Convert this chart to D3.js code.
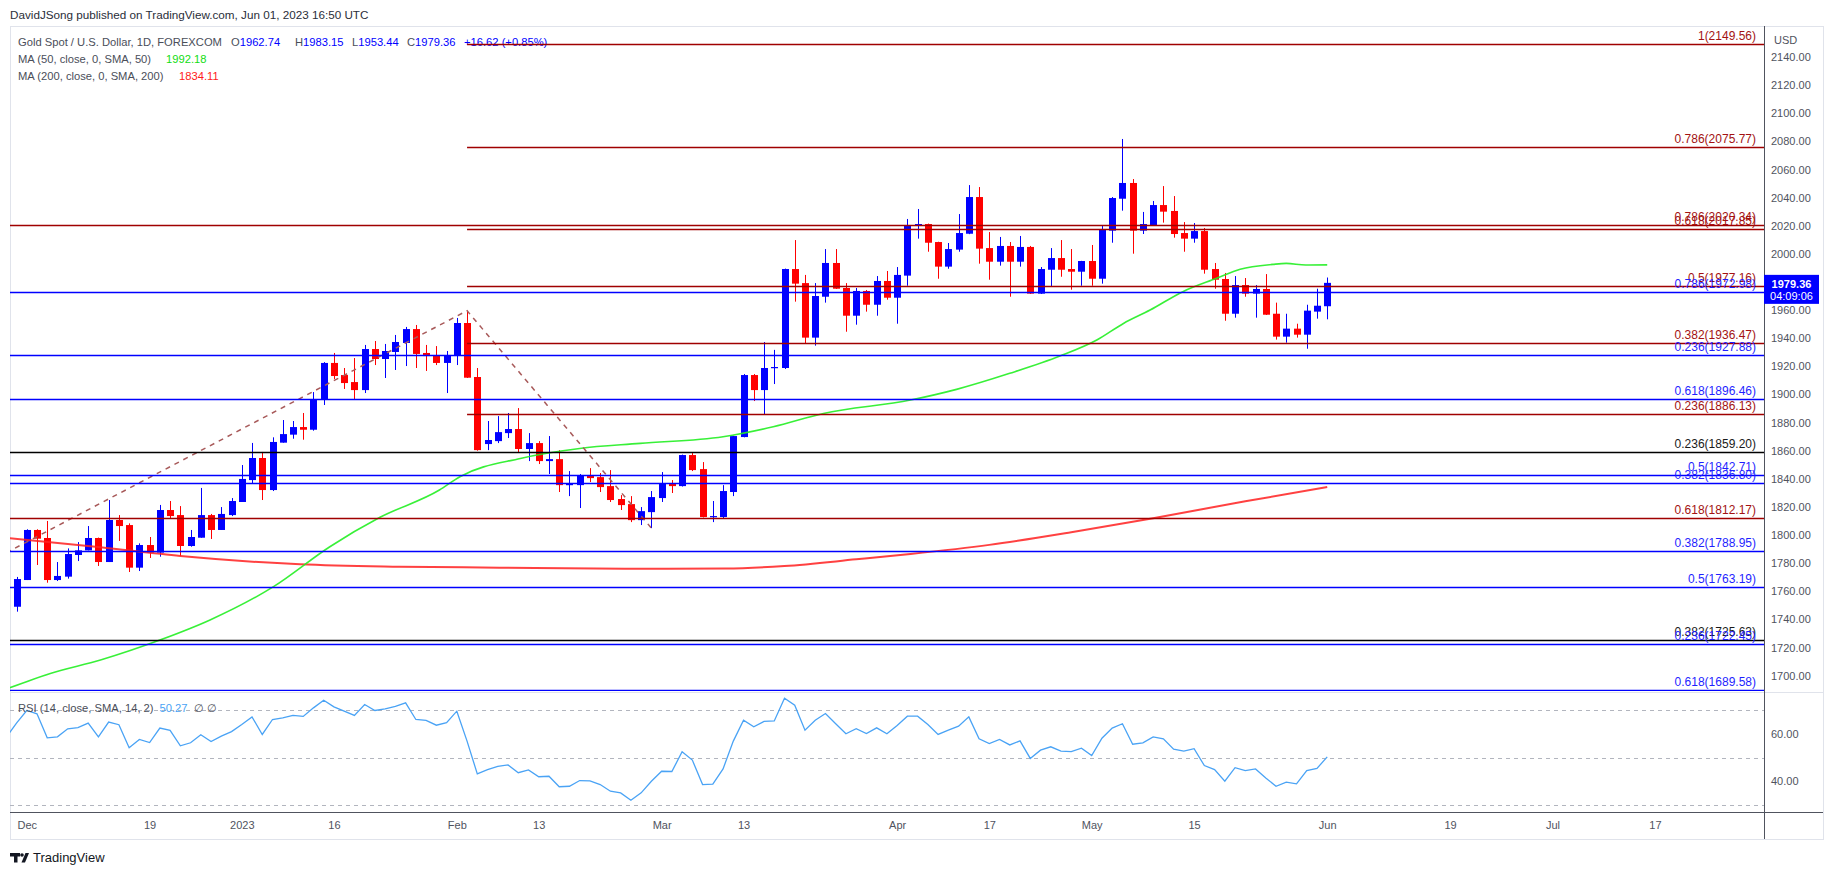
<!DOCTYPE html>
<html><head><meta charset="utf-8">
<script src="https://cdn.jsdelivr.net/npm/d3@7"></script>
<style>
body{margin:0;background:#fff;}
svg{display:block;font-family:"Liberation Sans",Arial,sans-serif;}
</style>
</head><body>
<svg id="c" width="1834" height="875"></svg>
<script>
// ---------------- DATA ----------------
const dates = ["2022-11-30","2022-12-01","2022-12-02","2022-12-05","2022-12-06","2022-12-07","2022-12-08","2022-12-09","2022-12-12","2022-12-13","2022-12-14","2022-12-15","2022-12-16","2022-12-19","2022-12-20","2022-12-21","2022-12-22","2022-12-23","2022-12-27","2022-12-28","2022-12-29","2022-12-30",
"2023-01-03","2023-01-04","2023-01-05","2023-01-06","2023-01-09","2023-01-10","2023-01-11","2023-01-12","2023-01-13","2023-01-16","2023-01-17","2023-01-18","2023-01-19","2023-01-20","2023-01-23","2023-01-24","2023-01-25","2023-01-26","2023-01-27","2023-01-30","2023-01-31",
"2023-02-01","2023-02-02","2023-02-03","2023-02-06","2023-02-07","2023-02-08","2023-02-09","2023-02-10","2023-02-13","2023-02-14","2023-02-15","2023-02-16","2023-02-17","2023-02-20","2023-02-21","2023-02-22","2023-02-23","2023-02-24","2023-02-27","2023-02-28",
"2023-03-01","2023-03-02","2023-03-03","2023-03-06","2023-03-07","2023-03-08","2023-03-09","2023-03-10","2023-03-13","2023-03-14","2023-03-15","2023-03-16","2023-03-17","2023-03-20","2023-03-21","2023-03-22","2023-03-23","2023-03-24","2023-03-27","2023-03-28","2023-03-29","2023-03-30","2023-03-31",
"2023-04-03","2023-04-04","2023-04-05","2023-04-06","2023-04-10","2023-04-11","2023-04-12","2023-04-13","2023-04-14","2023-04-17","2023-04-18","2023-04-19","2023-04-20","2023-04-21","2023-04-24","2023-04-25","2023-04-26","2023-04-27","2023-04-28",
"2023-05-01","2023-05-02","2023-05-03","2023-05-04","2023-05-05","2023-05-08","2023-05-09","2023-05-10","2023-05-11","2023-05-12","2023-05-15","2023-05-16","2023-05-17","2023-05-18","2023-05-19","2023-05-22","2023-05-23","2023-05-24","2023-05-25","2023-05-26","2023-05-29","2023-05-30","2023-05-31","2023-06-01"];

const open = [1749.0,1768.0,1803.6,1797.9,1768.0,1770.4,1785.8,1789.1,1797.9,1780.8,1810.7,1807.1,1776.8,1792.9,1787.5,1817.8,1814.2,1792.2,1798.1,1814.2,1803.6,1814.2,
1823.5,1839.1,1854.8,1832.0,1865.7,1871.4,1876.8,1874.9,1896.7,1922.4,1913.8,1908.8,1903.1,1932.3,1925.2,1930.2,1936.6,1946.5,1929.5,1928.0,1922.4,
1928.0,1950.8,1912.4,1864.7,1866.8,1872.5,1875.4,1861.2,1865.4,1852.6,1854.0,1835.5,1835.5,1842.7,1841.2,1834.8,1825.6,1822.0,1810.6,1816.3,
1826.3,1836.3,1834.8,1856.9,1846.9,1812.8,1812.8,1830.6,1869.7,1913.8,1903.1,1918.8,1918.8,1989.2,1979.2,1940.4,1969.5,1993.5,1975.7,1956.0,1973.6,1963.8,1980.7,
1968.8,1984.5,2020.3,2021.2,2008.4,1990.9,2003.0,2014.3,2040.4,2004.1,1994.4,2005.6,1994.4,2004.9,1971.7,1988.7,1997.0,1989.2,1987.3,
1994.9,1982.3,2016.5,2039.2,2050.4,2016.5,2020.5,2034.7,2030.5,2014.8,2010.8,2016.2,1989.2,1982.1,1957.4,1977.8,1971.7,1975.0,1957.4,1941.1,1946.8,1942.5,1958.9,1962.74];
const high = [1770.2,1804.1,1804.1,1810.0,1780.8,1790.5,1795.0,1806.4,1798.2,1824.9,1814.2,1808.3,1794.1,1798.6,1821.4,1824.2,1820.6,1803.6,1833.5,1815.0,1819.9,1826.3,
1849.8,1865.5,1859.1,1869.5,1881.8,1881.1,1886.8,1901.7,1923.0,1929.5,1918.8,1925.9,1935.2,1938.0,1935.9,1942.3,1948.0,1949.4,1935.2,1934.4,1930.9,
1954.4,1959.6,1918.8,1881.1,1884.6,1886.8,1890.3,1872.5,1866.8,1870.4,1860.4,1845.5,1843.4,1847.6,1844.1,1846.2,1828.4,1827.7,1819.9,1831.3,
1844.8,1839.1,1857.2,1858.3,1851.9,1824.2,1835.5,1870.6,1914.5,1914.5,1937.3,1931.7,1989.5,2009.8,1985.0,1979.2,2003.4,2003.4,1979.2,1975.7,1974.3,1984.2,1987.8,
1990.6,2024.8,2031.9,2021.5,2008.6,2007.7,2028.3,2048.9,2047.5,2015.5,2012.0,2008.4,2012.7,2005.6,1990.6,2004.1,2009.8,2003.4,1995.0,
2006.3,2020.0,2040.4,2081.7,2053.2,2029.8,2037.6,2048.2,2041.1,2022.6,2021.9,2018.4,1993.5,1986.4,1984.2,1982.8,1977.8,1985.6,1965.3,1957.4,1950.3,1963.8,1975.2,1983.15];
const low = [1745.5,1768.0,1778.7,1766.1,1767.3,1769.0,1781.5,1789.1,1778.0,1780.8,1795.8,1773.7,1774.4,1783.7,1784.6,1811.9,1785.1,1791.7,1798.1,1797.2,1803.6,1813.5,
1823.5,1836.8,1824.9,1831.3,1865.7,1868.5,1867.8,1874.2,1892.5,1911.0,1903.9,1896.7,1901.0,1920.9,1911.7,1917.4,1920.2,1918.8,1916.7,1920.9,1901.0,
1920.9,1911.7,1860.0,1860.4,1865.4,1869.0,1859.0,1852.6,1850.5,1843.4,1830.6,1827.7,1819.2,1837.7,1830.6,1823.5,1817.8,1809.2,1807.1,1804.9,
1823.5,1829.9,1834.5,1845.5,1812.5,1809.2,1812.1,1827.7,1869.5,1895.3,1886.0,1907.4,1918.1,1966.0,1936.3,1934.7,1965.3,1975.0,1944.6,1949.6,1958.9,1956.0,1967.4,
1950.3,1977.3,2010.8,2001.5,1982.3,1989.4,2001.5,2014.0,1993.0,1981.6,1991.6,1969.5,1990.9,1971.5,1971.5,1977.1,1983.7,1974.5,1977.3,
1977.3,1978.8,2007.9,2030.7,2000.1,2014.1,2020.3,2022.2,2011.5,2001.5,2007.9,1985.9,1975.2,1952.4,1954.6,1969.5,1954.6,1956.5,1939.0,1936.8,1940.4,1932.5,1953.9,1953.44];
const close = [1768.7,1803.6,1797.4,1768.0,1770.9,1786.5,1789.1,1797.9,1780.8,1810.7,1806.4,1776.8,1792.9,1787.5,1817.8,1813.5,1792.2,1798.6,1814.2,1803.6,1815.0,1824.2,
1839.9,1854.8,1832.0,1866.2,1871.8,1876.8,1874.9,1896.7,1922.4,1913.1,1908.1,1903.1,1932.3,1925.2,1930.9,1937.3,1946.5,1928.8,1927.3,1922.4,1928.0,
1950.8,1911.9,1860.4,1867.6,1873.2,1875.4,1861.2,1865.4,1852.6,1854.0,1835.5,1836.3,1842.7,1840.5,1834.1,1824.9,1821.3,1810.6,1817.0,1827.0,
1837.0,1834.8,1856.9,1846.2,1812.8,1813.5,1831.3,1870.4,1913.8,1903.1,1918.8,1919.5,1989.2,1978.8,1940.4,1970.0,1993.5,1975.2,1956.0,1973.6,1963.8,1980.7,1968.8,
1985.0,2020.3,2021.2,2007.9,1990.9,2003.4,2014.8,2040.4,2003.7,1994.4,2005.6,1994.4,2004.9,1971.7,1989.2,1997.0,1988.7,1987.3,1994.9,
1982.3,2017.2,2039.7,2050.4,2016.5,2021.2,2034.7,2030.0,2014.1,2010.8,2016.2,1988.7,1981.6,1957.4,1977.8,1971.7,1975.0,1956.7,1941.1,1946.8,1942.5,1959.6,1963.1,1979.36];

// RSI values, first value belongs to the bar before 2022-11-30 (index -1)
const rsi = [58.5,64.5,69.8,68.4,58.3,58.7,62.1,62.6,64.5,58.7,64.9,63.8,54.1,57.6,56.3,62.4,61.4,54.9,56.2,59.6,56.7,59.0,60.9,
63.9,67.1,59.7,66.0,66.7,67.7,67.3,70.9,74.1,71.3,69.5,67.7,72.3,69.8,70.5,71.5,73.0,66.0,65.6,63.6,64.7,
69.5,56.9,43.1,44.9,46.3,46.9,43.6,44.8,41.9,42.1,37.7,37.9,40.3,40.2,38.6,35.8,35.1,32.0,35.1,40.0,
44.2,44.1,52.4,48.9,38.6,38.8,45.2,56.9,65.7,62.9,65.2,65.4,75.0,72.0,61.5,65.7,68.5,64.2,60.0,62.1,60.1,62.5,60.0,
63.5,67.4,67.4,63.9,59.7,61.5,63.2,67.1,57.9,55.9,57.6,55.3,57.0,49.6,53.1,54.5,52.7,52.5,53.9,
50.8,58.1,62.4,64.2,55.6,56.2,58.7,57.9,53.5,52.7,53.7,46.6,44.9,40.0,45.7,44.5,45.2,41.4,37.9,39.6,38.9,44.5,45.4,50.27];

// Moving averages (bar index, value)
const ma50Idx = [-1,3.3,8.2,14,18.9,25.1,30.6,35.5,41.3,43.3,49.2,55,60.9,69,73.9,78.8,87.3,91.8,97,101.9,105.5,108.1,110.7,113.9,117.2,119.5,122.7,124,125.9,128];
const ma50Val = [1690.4,1701.6,1711.1,1725.3,1739.6,1763.3,1791.7,1812.6,1832.0,1841.5,1854.5,1861.6,1865.2,1869.9,1877.0,1886.5,1896.0,1903.6,1915.0,1927.3,1938.7,1950.5,1960.0,1973.1,1982.6,1989.0,1992.5,1993.2,1992.1,1992.18];
const ma200Idx = [-1,8.2,16,27.7,37.4,47.2,60,69.2,75,82,87.3,95,103,111,120,128];
const ma200Val = [1798.0,1791.3,1785.1,1779.2,1777.5,1776.8,1776.0,1776.2,1778.0,1782.7,1786.5,1793.0,1802.0,1812.0,1824.0,1834.11];

// Fibonacci levels
const fibRatio = ["1","0.786","0.786","0.618","0.5","0.786","0.382","0.236","0.618","0.236","0.236","0.5","0.382","0.618","0.382","0.5","0.382","0.236","0.618"];
const fibPrice = [2149.56,2075.77,2020.34,2017.85,1977.16,1972.98,1936.47,1927.88,1896.46,1886.13,1859.20,1842.71,1836.80,1812.17,1788.95,1763.19,1725.63,1722.45,1689.58];
const fibSet   = ["r1","r1","r2","r1","r1","b","r1","b","b","r1","k","b","b","r2","b","b","k","b","b"];

// Trend (dashed) drawing anchors
const trendIdx = [-1,44,62];
const trendPrice = [1787.4,1959.56,1804.96];

const priceTicks = [1700,1720,1740,1760,1780,1800,1820,1840,1860,1880,1900,1920,1940,1960,1980,2000,2020,2040,2060,2080,2100,2120,2140];
const rsiTicks = [40,60];
const rsiLevels = [30,50,70];
const timeTickIdx = [1,13,22,31,43,51,63,71,86,95,105,115,128,140,150,160];
const timeTickLabels = ["Dec","19","2023","16","Feb","13","Mar","13","Apr","17","May","15","Jun","19","Jul","17"];

// ---------------- LAYOUT ----------------
const svg = d3.select("#c");
const PL=10, PR=1764, PT=27, PB=691, RT=693, RB=812, FR=1823, FB=839;
const x = d3.scaleLinear().domain([0,128]).range([16.5,16.5+128*10.24]);
const y = d3.scaleLinear().domain([1700,2140]).range([675.64,57]);
const yr = d3.scaleLinear().domain([30,70]).range([805,710]);
const AX = "#50535e";
const fibColors = {r1:"#a00000", r2:"#a00000", b:"#0000ff", k:"#000000"};
const fibText = {r1:"#a31212", r2:"#a31212", b:"#1f1fff", k:"#1a1a1a"};

const defs = svg.append("defs");
defs.append("clipPath").attr("id","mainClip").append("rect").attr("x",PL).attr("y",PT).attr("width",PR-PL).attr("height",PB-PT);
defs.append("clipPath").attr("id","rsiClip").append("rect").attr("x",PL).attr("y",RT).attr("width",PR-PL).attr("height",RB-RT);

// title
svg.append("text").attr("x",10).attr("y",19).attr("font-size",11.7).attr("fill","#2a2e39")
  .text("DavidJSong published on TradingView.com, Jun 01, 2023 16:50 UTC");

// frame
svg.append("rect").attr("x",PL+0.5).attr("y",26.5).attr("width",FR-PL).attr("height",FB-26).attr("fill","none").attr("stroke","#e0e3eb");
svg.append("line").attr("x1",PL).attr("x2",FR).attr("y1",692.5).attr("y2",692.5).attr("stroke","#e0e3eb");

// legend
const lg = svg.append("g").attr("font-size",11.2).attr("fill","#4a4e59");
lg.append("text").attr("x",18).attr("y",46).text("Gold Spot / U.S. Dollar, 1D, FOREXCOM");
const ohlc = [["O",open[128],231],["H",high[128],295],["L",low[128],352],["C",close[128],407]];
ohlc.forEach(([k,v,px])=>{
  const t = lg.append("text").attr("x",px).attr("y",46);
  t.append("tspan").text(k);
  t.append("tspan").attr("fill","#0000ff").text(v.toFixed(2));
});
lg.append("text").attr("x",464).attr("y",46).attr("fill","#0000ff").text("+16.62 (+0.85%)");
lg.append("text").attr("x",18).attr("y",63).text("MA (50, close, 0, SMA, 50)");
lg.append("text").attr("x",166).attr("y",63).attr("fill","#11dd11").text(ma50Val[ma50Val.length-1].toFixed(2));
lg.append("text").attr("x",18).attr("y",80).text("MA (200, close, 0, SMA, 200)");
lg.append("text").attr("x",179).attr("y",80).attr("fill","#ff1a1a").text(ma200Val[ma200Val.length-1].toFixed(2));

// ---------------- MAIN PANE ----------------
const main = svg.append("g").attr("clip-path","url(#mainClip)");
const candles = dates.map((d,i)=>({i,d,o:open[i],h:high[i],l:low[i],c:close[i]}));
const col = d=> d.c>=d.o ? "#0000ff" : "#ff0000";
main.append("g").selectAll("line").data(candles).join("line")
  .attr("x1",d=>Math.round(x(d.i))+0.5).attr("x2",d=>Math.round(x(d.i))+0.5)
  .attr("y1",d=>y(d.h)).attr("y2",d=>y(d.l)).attr("stroke",col).attr("stroke-width",1);
main.append("g").selectAll("rect").data(candles).join("rect")
  .attr("x",d=>Math.round(x(d.i))-3).attr("width",7)
  .attr("y",d=>y(Math.max(d.o,d.c)))
  .attr("height",d=>Math.max(1.2,Math.abs(y(d.o)-y(d.c))))
  .attr("fill",col);

// MAs
const lineGen = d3.line().x(d=>x(d[0])).y(d=>y(d[1])).curve(d3.curveMonotoneX);
main.append("path").attr("d",lineGen(ma200Idx.map((v,i)=>[v,ma200Val[i]])))
  .attr("fill","none").attr("stroke","#ff2020").attr("stroke-opacity",0.85).attr("stroke-width",2);
main.append("path").attr("d",lineGen(ma50Idx.map((v,i)=>[v,ma50Val[i]])))
  .attr("fill","none").attr("stroke","#22ee22").attr("stroke-opacity",0.9).attr("stroke-width",1.6);

// trend dashed
main.append("path").attr("d",d3.line().x(d=>x(d[0])).y(d=>y(d[1]))(trendIdx.map((v,i)=>[v,trendPrice[i]])))
  .attr("fill","none").attr("stroke","#a85a5a").attr("stroke-width",1.5).attr("stroke-dasharray","5,5");

// fib lines
const fibs = fibPrice.map((p,i)=>({p,r:fibRatio[i],s:fibSet[i]}));
main.append("g").selectAll("line").data(fibs).join("line")
  .attr("x1",d=> d.s==="r1" ? x(44) : PL).attr("x2",PR)
  .attr("y1",d=>Math.round(y(d.p))+0.5).attr("y2",d=>Math.round(y(d.p))+0.5)
  .attr("stroke",d=>fibColors[d.s]).attr("stroke-width",1.3);
main.append("g").selectAll("text").data(fibs).join("text")
  .attr("x",1756).attr("y",d=>Math.round(y(d.p))-4).attr("text-anchor","end")
  .attr("font-size",12).attr("fill",d=>fibText[d.s])
  .text(d=>`${d.r}(${d.p.toFixed(2)})`);

// ---------------- RSI PANE ----------------
const rp = svg.append("g").attr("clip-path","url(#rsiClip)");
rp.selectAll("line").data(rsiLevels).join("line")
  .attr("x1",PL).attr("x2",PR).attr("y1",d=>Math.round(yr(d))+0.5).attr("y2",d=>Math.round(yr(d))+0.5)
  .attr("stroke","#b2b5be").attr("stroke-dasharray","4,4");
rp.append("path").attr("d",d3.line().x((d,i)=>x(i-1)).y(d=>yr(d))(rsi))
  .attr("fill","none").attr("stroke","#4aa3f5").attr("stroke-width",1.3);
const rl = svg.append("text").attr("x",18).attr("y",712).attr("font-size",11.2).attr("fill","#4a4e59");
rl.append("tspan").text("RSI (14, close, SMA, 14, 2)");
rl.append("tspan").attr("dx",6).attr("fill","#4aa3f5").text(rsi[rsi.length-1].toFixed(2));
rl.append("tspan").attr("dx",6).text("∅  ∅");

// ---------------- AXES ----------------
svg.append("line").attr("x1",PR+0.5).attr("x2",PR+0.5).attr("y1",26).attr("y2",FB).attr("stroke",AX);
svg.append("line").attr("x1",PL).attr("x2",FR).attr("y1",RB+0.5).attr("y2",RB+0.5).attr("stroke",AX);

const pa = svg.append("g").attr("transform",`translate(${PR},0)`)
  .call(d3.axisRight(y).tickValues(priceTicks).tickSize(0).tickPadding(7).tickFormat(d=>d.toFixed(2)));
pa.select(".domain").remove();
pa.selectAll("text").attr("font-size",11).attr("fill",AX).attr("font-family","Liberation Sans, Arial, sans-serif");

const ra = svg.append("g").attr("transform",`translate(${PR},0)`)
  .call(d3.axisRight(yr).tickValues(rsiTicks).tickSize(0).tickPadding(7).tickFormat(d=>d.toFixed(2)));
ra.select(".domain").remove();
ra.selectAll("text").attr("font-size",11).attr("fill",AX).attr("font-family","Liberation Sans, Arial, sans-serif");

const ta = svg.append("g").attr("transform",`translate(0,${RB})`)
  .call(d3.axisBottom(x).tickValues(timeTickIdx).tickSize(0).tickPadding(9).tickFormat((d,i)=>timeTickLabels[i]));
ta.select(".domain").remove();
ta.selectAll("text").attr("font-size",11).attr("fill",AX).attr("font-family","Liberation Sans, Arial, sans-serif");

svg.append("text").attr("x",1774).attr("y",44).attr("font-size",11).attr("fill",AX).text("USD");

// price tag
const lastY = y(close[128]);
svg.append("rect").attr("x",PR).attr("y",lastY-8).attr("width",55).attr("height",29).attr("fill","#0000ff");
svg.append("text").attr("x",PR+27.5).attr("y",lastY+5).attr("text-anchor","middle").attr("font-size",11).attr("font-weight","bold").attr("fill","#fff").text(close[128].toFixed(2));
svg.append("text").attr("x",PR+27.5).attr("y",lastY+17).attr("text-anchor","middle").attr("font-size",11).attr("fill","#fff").text("04:09:06");

// TradingView logo
const lgo = svg.append("g").attr("fill","#131722");
lgo.append("rect").attr("x",10).attr("y",853).attr("width",10).attr("height",3.5);
lgo.append("rect").attr("x",14).attr("y",853).attr("width",3.5).attr("height",9.5);
lgo.append("circle").attr("cx",22).attr("cy",855).attr("r",1.8);
lgo.append("path").attr("d","M21.5,862.5 L25.5,853 L29,853 L25,862.5 Z");
svg.append("text").attr("x",33).attr("y",862).attr("font-size",13).attr("fill","#131722").text("TradingView");
</script>
</body></html>
